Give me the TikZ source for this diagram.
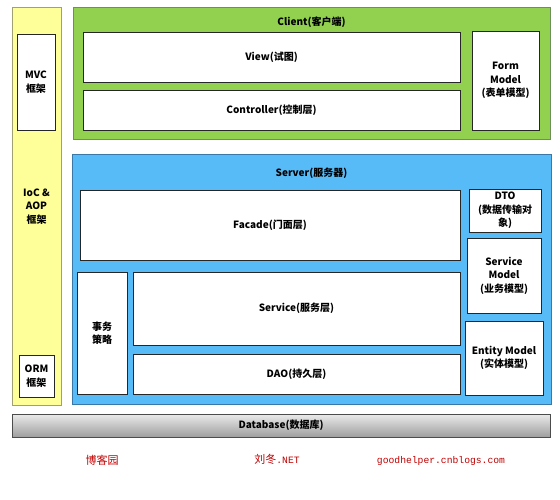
\documentclass[tikz,border=0pt]{standalone}
\usepackage{fontspec}
\setmainfont{Noto Sans CJK SC}
\setmonofont{Liberation Mono}
\usetikzlibrary{positioning}

\definecolor{iocyellow}{HTML}{FFFF99}
\definecolor{iocline}{HTML}{A0A070}
\definecolor{clientgreen}{HTML}{92D050}
\definecolor{clientline}{HTML}{6F8F5A}
\definecolor{serverblue}{HTML}{57BBF7}
\definecolor{serverline}{HTML}{3A78A8}
\definecolor{footred}{HTML}{C00000}

\begin{document}
\begin{tikzpicture}%
            [x = 1pt, y = -1pt,
             layer/.style = {draw, line width = 1pt, inner sep = 0pt, outer sep = 0pt},
             box/.style = {draw = black!85, fill = white, line width = 0.8pt, inner sep = 0pt,
                           outer sep = 0pt, align = center,
                           font = \fontsize{10}{13.5}\selectfont\bfseries},
             title/.style = {font = \fontsize{10}{13.5}\selectfont\bfseries},
             foot/.style = {text = footred, font = \fontsize{11}{13}\selectfont}]
            \useasboundingbox (0,0) rectangle (560,500);

            % left column
            \node [layer, draw = iocline, fill = iocyellow, minimum width = 49pt, minimum height = 397pt,
                   align = center, font = \fontsize{10}{13.5}\selectfont\bfseries] (ioc) at (36.5,206.5) {IoC \&\\AOP\\框架};
            \node [box, minimum width = 38pt, minimum height = 96pt] (mvc) at (36,82) {MVC\\框架};
            \node [box, minimum width = 35pt, minimum height = 42pt] (orm) at (36.5,376) {ORM\\框架};

            % client
            \node [layer, draw = clientline, fill = clientgreen, minimum width = 477pt, minimum height = 132pt] (client) at (311.5,74) {};
            \node [title] (clienttitle) at (311.5,22) {Client(客户端)};
            \node [box, minimum width = 377pt, minimum height = 50pt] (view) at (271.5,57) {View(试图)};
            \node [box, minimum width = 377pt, minimum height = 40pt] (controller) at (271.5,110) {Controller(控制层)};
            \node [box, minimum width = 67pt, minimum height = 99pt] (formmodel) at (505.5,80.5) {Form\\Model\\(表单模型)};

            % server
            \node [layer, draw = serverline, fill = serverblue, minimum width = 479pt, minimum height = 249pt] (server) at (311.5,279.5) {};
            \node [title] (servertitle) at (311.5,173) {Server(服务器)};
            \node [box, minimum width = 380pt, minimum height = 70pt] (facade) at (270,225) {Facade(门面层)};
            \node [box, minimum width = 72pt, minimum height = 43pt] (dto) at (505,210.5) {DTO\\(数据传输对\\象)};
            \node [box, minimum width = 74pt, minimum height = 75pt] (servicemodel) at (504,275.5) {Service\\Model\\(业务模型)};
            \node [box, minimum width = 78pt, minimum height = 74pt] (entitymodel) at (504,358) {Entity Model\\(实体模型)};
            \node [box, minimum width = 50pt, minimum height = 122pt] (tx) at (102,333) {事务\\策略};
            \node [box, minimum width = 327pt, minimum height = 73pt] (service) at (296.5,308.5) {Service(服务层)};
            \node [box, minimum width = 327pt, minimum height = 40pt] (dao) at (296.5,374) {DAO(持久层)};

            % database
            \node [layer, draw = black!70, top color = black!8, bottom color = black!38,
                   minimum width = 538pt, minimum height = 23pt, font = \fontsize{10}{13.5}\selectfont\bfseries] (db) at (281,425.5) {Database(数据库)};

            % footer
            \node [foot] (blog) at (102,460) {博客园};
            \node [foot] (author) at (277,459) {刘冬{\ttfamily\fontsize{9.7}{12}\selectfont .NET}};
            \node [foot, font = \ttfamily\fontsize{9.7}{12}\selectfont] (site) at (441,461) {goodhelper.cnblogs.com};

        \end{tikzpicture}
\end{document}
